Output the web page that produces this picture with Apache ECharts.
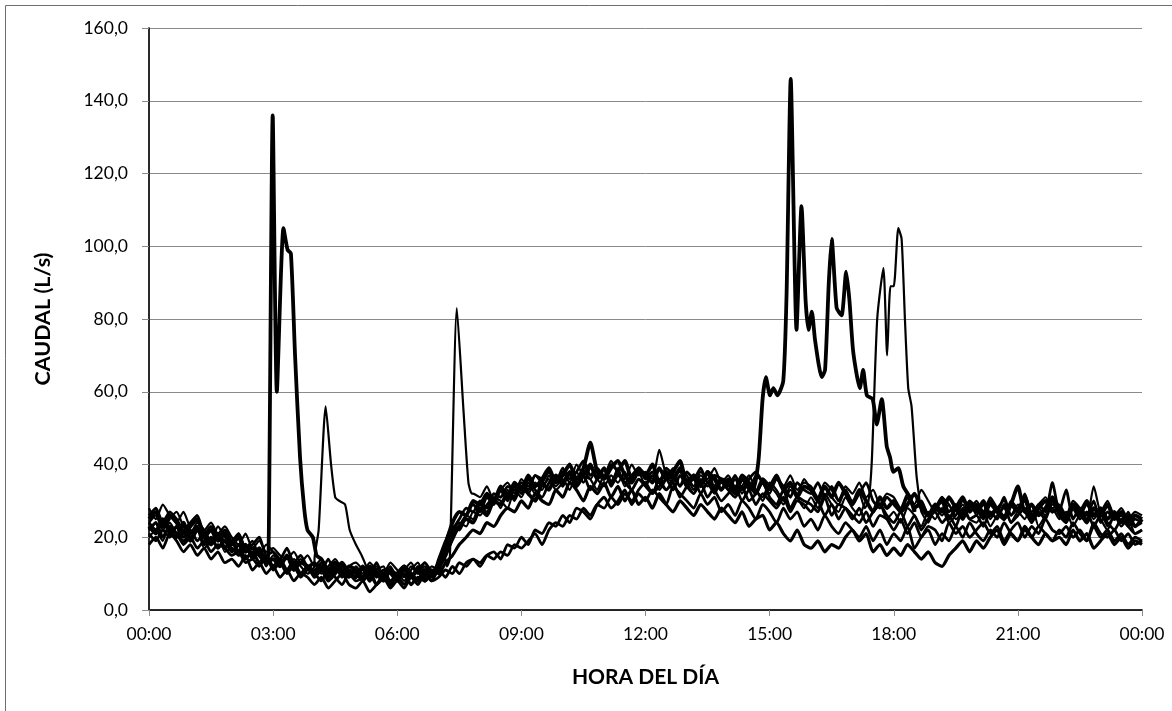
<!DOCTYPE html>
<html>
<head>
<meta charset="utf-8">
<script src="https://cdn.jsdelivr.net/npm/echarts@6/dist/echarts.min.js"></script>
<style>
    html, body { margin: 0; padding: 0; background: #fff; }
    #chart { width: 1172px; height: 711px; }
</style>
</head>
<body>
<div id="chart"></div>
<script>
// caudal cada 10 minutos (00:00 ... 24:00), 145 valores por día
var dia1 = [
    25,27,23,26,24,21, 23,25,20,22,19,21,
    18,20,16,17,15,16, 14,15,13,12,14,13,
    12,14,11,13,10,12, 11,9,12,10,8,11,
    9,12,10,8,11,10, 13,18,24,27,26,30,
    29,32,30,34,31,35, 33,37,34,36,39,35,
    37,40,36,39,46,38, 36,39,41,37,35,38,
    37,35,39,36,38,41, 35,37,34,38,36,33,
    36,33,37,35,32,36, 34,37,33,35,31,34,
    33,30,34,31,35,32, 29,33,30,27,31,28,
    30,27,29,32,28,26, 29,27,31,28,25,29,
    27,30,26,28,25,29, 34,27,29,26,28,31,
    28,25,29,27,30,26, 28,25,27,24,26,23,
    25
];
var dia2 = [
    20,22,19,24,21,18, 20,22,17,19,21,16,
    17,15,18,14,16,12, 15,13,11,14,12,10,
    12,10,13,11,9,12, 10,13,9,11,12,8,
    10,8,11,13,9,12, 11,16,21,24,23,27,
    26,29,31,28,33,30, 34,32,35,33,37,34,
    36,33,38,35,39,36, 34,37,35,38,33,36,
    35,37,33,36,39,34, 36,33,37,35,32,35,
    33,36,32,35,33,30, 34,32,29,33,31,28,
    31,28,32,29,27,31, 28,26,30,27,29,25,
    27,24,28,26,23,27, 25,28,24,26,29,25,
    24,27,23,26,28,24, 27,25,29,23,26,28,
    25,27,23,26,24,28, 25,22,26,23,25,21,
    22
];
var dia3 = [
    28,25,29,26,24,27, 23,25,22,24,21,23,
    20,18,21,17,19,16, 17,15,14,16,13,15,
    12,14,11,13,10,12, 13,11,9,12,10,13,
    11,9,12,10,13,11, 12,14,18,26,30,32,
    31,34,30,33,35,32, 36,34,37,35,38,36,
    38,35,40,37,36,39, 37,41,38,36,40,37,
    38,36,44,37,35,39, 37,34,38,36,39,35,
    37,34,36,33,37,35, 32,36,34,37,33,35,
    34,31,35,33,30,34, 32,35,31,33,29,32,
    31,28,32,29,33,30, 27,31,29,26,30,28,
    30,27,31,28,26,30, 28,32,27,29,31,28,
    29,26,30,28,25,34, 27,30,26,28,25,27,
    26
];
var dia4 = [
    23,21,25,22,20,24, 19,22,20,18,21,17,
    19,16,18,15,17,13, 14,12,15,11,13,12,
    10,12,9,11,13,10, 9,12,8,11,10,7,
    10,12,9,11,8,10, 12,15,20,23,25,24,
    28,26,30,29,32,31, 34,32,30,35,33,37,
    35,38,34,37,40,36, 39,35,38,41,36,39,
    37,40,35,38,36,39, 34,37,35,38,33,36,
    35,32,36,34,37,33, 35,33,36,34,31,35,
    33,35,31,34,30,33, 31,28,32,30,27,31,
    30,28,31,27,29,26, 28,30,25,28,31,27,
    29,26,30,27,25,29, 27,31,26,28,30,27,
    28,25,29,27,24,28, 26,29,25,27,24,26,
    25
];
var dia5 = [
    24,26,22,25,27,23, 21,24,22,19,23,20,
    18,21,17,19,15,18, 16,13,15,12,14,11,
    13,10,12,14,11,9, 12,10,13,11,9,12,
    9,11,13,10,12,9, 11,15,19,23,26,25,
    29,27,31,30,28,33, 31,35,32,34,36,33,
    35,37,34,38,36,33, 37,35,39,34,36,38,
    34,37,35,33,36,38, 35,32,36,34,37,33,
    35,32,34,37,33,31, 35,33,30,34,32,36,
    33,30,34,31,29,33, 30,32,28,31,29,27,
    26,28,25,30,27,24, 28,26,29,25,27,30,
    26,29,25,28,30,26, 29,27,24,28,26,29,
    27,24,28,26,29,25, 27,23,26,24,27,23,
    24
];
var dia6 = [
    26,28,24,27,25,22, 24,26,21,23,20,22,
    19,21,17,18,20,15, 16,14,17,13,15,12,
    13,11,14,10,12,11, 9,12,10,13,9,11,
    10,12,9,11,13,10, 12,17,22,25,28,27,
    30,28,32,31,34,33, 35,33,37,36,38,35,
    39,36,38,41,37,39, 36,40,38,35,37,39,
    36,38,35,39,37,34, 38,36,39,35,37,36,
    34,37,33,36,38,35, 33,36,34,31,35,33,
    32,35,31,34,30,33, 29,32,35,30,28,31,
    29,27,31,28,30,26, 28,31,27,29,26,30,
    28,25,29,27,31,26, 28,30,25,29,27,35,
    27,33,25,28,26,30, 24,27,25,26,23,25,
    24
];
var dia7 = [
    21,19,22,20,23,18, 20,17,19,16,18,17,
    15,16,13,14,12,15, 11,13,10,12,9,11,
    10,8,11,9,7,10, 8,9,11,7,10,8,
    9,7,10,8,11,9, 14,19,23,22,26,29,
    27,31,29,33,30,34, 32,36,33,31,35,37,
    34,38,35,37,33,36, 39,34,37,35,33,36,
    34,32,36,33,35,31, 34,36,32,35,33,30,
    32,34,30,33,29,32, 30,28,31,27,30,29,
    27,30,26,29,25,28, 26,24,27,23,26,25,
    22,25,21,24,20,23, 22,19,24,21,23,20,
    22,24,21,23,19,22, 24,20,23,21,25,22,
    21,23,20,22,19,24, 21,20,22,19,21,18,
    19
];
var dia8 = [
    24,22,25,21,23,20, 22,19,21,18,20,19,
    17,15,18,14,16,13, 14,12,15,11,13,12,
    11,13,10,12,9,11, 10,8,12,9,11,10,
    8,11,9,12,10,8, 9,11,10,13,12,14,
    13,15,14,16,15,18, 17,19,21,18,22,24,
    23,26,25,28,26,29, 28,31,29,32,30,33,
    35,32,34,36,33,37, 34,32,35,31,34,36,
    33,31,34,30,32,35, 31,29,33,28,31,30,
    29,27,31,26,29,28, 25,28,24,27,29,26,
    24,27,23,26,22,25, 27,24,26,23,28,25,
    26,23,27,25,29,24, 26,28,24,27,25,30,
    26,24,28,25,27,23, 26,24,22,25,23,21,
    22
];
var dia9 = [
    18,20,17,21,19,16, 18,15,17,14,16,13,
    14,12,15,11,13,10, 12,9,11,8,10,9,
    7,9,6,8,10,7, 6,8,5,7,9,6,
    8,6,9,7,10,8, 11,9,12,10,13,14,
    12,15,16,14,18,17, 20,18,22,21,24,23,
    26,24,28,27,25,29, 31,28,30,33,29,32,
    30,33,31,29,34,32, 30,28,32,29,31,27,
    29,26,30,28,25,29, 27,24,28,25,27,23,
    25,22,26,23,21,24, 22,20,23,19,22,18,
    21,19,23,17,20,22, 18,21,19,23,20,24,
    21,19,22,20,24,21, 19,22,20,23,21,19,
    22,20,24,21,19,23, 20,22,19,21,18,20,
    19
];
var dia10 = [
    22,24,20,23,21,19, 21,23,18,20,17,19,
    16,18,14,16,13,15, 12,14,11,13,10,12,
    9,11,8,10,12,9, 11,8,10,7,9,11,
    8,10,7,9,8,11, 10,13,15,18,20,22,
    21,24,23,26,28,27, 30,28,32,30,29,33,
    31,35,33,30,34,32, 35,31,34,30,33,29,
    31,28,32,29,27,30, 28,26,29,27,25,28,
    26,24,27,23,25,26, 22,24,21,19,22,18,
    17,19,16,18,17,20, 22,19,21,16,18,15,
    17,15,18,16,14,16, 13,12,15,17,19,16,
    19,17,20,22,18,21, 19,23,20,18,21,19,
    20,18,22,19,21,17, 19,21,18,20,17,19,
    18
];

// picos puntuales [hora, caudal]
var pico1 = [[2.83,13],[2.89,16],[2.99,136],[3.09,60],[3.25,105],[3.35,99],[3.43,98],[3.53,70],[3.65,42],[3.75,28],[3.83,22],[3.96,20],[4.05,15]];
var pico2 = [[4.0,14],[4.1,22],[4.27,56],[4.4,40],[4.5,31],[4.6,30],[4.74,29],[4.85,22],[5.0,18],[5.14,15],[5.25,12]];
var pico3 = [[7.2,12],[7.27,14],[7.44,83],[7.6,55],[7.72,35],[7.8,32]];
var pico4 = [[14.6,33],[14.73,41],[14.83,58],[14.91,64],[15.01,59],[15.09,61],[15.19,59],[15.33,63],[15.41,87],[15.51,146],
    [15.65,77],[15.77,111],[15.87,85],[15.94,77],[16.02,82],[16.1,74],[16.26,64],[16.34,66],[16.43,90],[16.5,102],
    [16.62,83],[16.74,81],[16.85,93],[16.93,85],[17.02,71],[17.18,61],[17.26,66],[17.35,59],[17.49,58],[17.59,51],
    [17.71,58],[17.83,45],[17.91,42],[17.99,38],[18.11,39],[18.23,34],[18.39,31],[18.5,28]];
var pico5 = [[17.3,28],[17.39,30],[17.47,41],[17.6,80],[17.75,94],[17.84,70],[17.92,89],[18.0,89],[18.11,105],[18.19,102],
    [18.27,80],[18.35,61],[18.43,56],[18.55,37],[18.65,28]];

var xTicks = ['00:00','03:00','06:00','09:00','12:00','15:00','18:00','21:00','00:00'];

function armar(base, pico) {
    var pts = [];
    for (var i = 0; i < base.length; i++) {
        var h = i / 6;
        if (pico && h > pico[0][0] && h < pico[pico.length - 1][0]) continue;
        pts.push([h, base[i]]);
    }
    if (pico) pts = pts.concat(pico);
    pts.sort(function (a, b) { return a[0] - b[0]; });
    return pts;
}

function linea(base, pico, ancho) {
    return {
        type: 'line',
        data: armar(base, pico),
        symbol: 'none',
        smooth: 0.2,
        lineStyle: { color: '#000', width: ancho },
        silent: true
    };
}

var gris = '#8a8a8a';
var fuente = 'Lato, "Liberation Sans", sans-serif';

var chart = echarts.init(document.getElementById('chart'));
var option = {
    animation: false,
    backgroundColor: '#fff',
    textStyle: { fontFamily: fuente },
    graphic: [{
        type: 'rect',
        shape: { x: 5.5, y: 5.5, width: 1300, height: 900 },
        style: { fill: null, stroke: '#6e6e6e', lineWidth: 1 },
        silent: true
    }],
    grid: { left: 149, right: 30, top: 28, bottom: 101 },
    xAxis: [{
        type: 'value',
        min: 0, max: 24, interval: 3,
        name: 'HORA DEL DÍA',
        nameLocation: 'middle',
        nameGap: 57,
        nameTextStyle: { fontSize: 21, fontWeight: 'bold', color: '#000', fontFamily: fuente },
        axisLine: { lineStyle: { color: gris, width: 1.5 } },
        axisTick: { show: true, length: 6, lineStyle: { color: gris } },
        axisLabel: {
            fontSize: 17.5, color: '#000', margin: 15, fontFamily: fuente,
            formatter: function (v) { return xTicks[Math.round(v / 3)]; }
        },
        splitLine: { show: false }
    }, {
        type: 'value', position: 'top',
        min: 0, max: 24,
        axisLine: { lineStyle: { color: '#000', width: 1.5 } },
        axisTick: { show: false }, axisLabel: { show: false }, splitLine: { show: false }
    }],
    yAxis: [{
        type: 'value',
        min: 0, max: 160, interval: 20,
        name: 'CAUDAL (L/s)',
        nameLocation: 'middle',
        nameGap: 95,
        nameTextStyle: { fontSize: 21.5, fontWeight: 'bold', color: '#000', fontFamily: fuente },
        axisLine: { show: true, lineStyle: { color: gris, width: 1.5 } },
        axisTick: { show: true, length: 7, lineStyle: { color: gris } },
        axisLabel: {
            fontSize: 17.5, color: '#000', margin: 21, fontFamily: fuente,
            formatter: function (v) { return v.toFixed(1).replace('.', ','); }
        },
        splitLine: { lineStyle: { color: gris, width: 1 } }
    }, {
        type: 'value', position: 'right',
        min: 0, max: 160,
        axisLine: { show: true, lineStyle: { color: '#000', width: 1.5 } },
        axisTick: { show: false }, axisLabel: { show: false }, splitLine: { show: false }
    }],
    series: [
        linea(dia6, null, 2.8),
        linea(dia7, null, 2.8),
        linea(dia8, null, 2.8),
        linea(dia9, null, 2.8),
        linea(dia10, null, 3.2),
        linea(dia2, pico2, 2.2),
        linea(dia3, pico3, 2.2),
        linea(dia5, pico5, 2.2),
        linea(dia1, pico1, 3.8),
        linea(dia4, pico4, 3.8)
    ]
};
chart.setOption(option);
</script>
</body>
</html>
